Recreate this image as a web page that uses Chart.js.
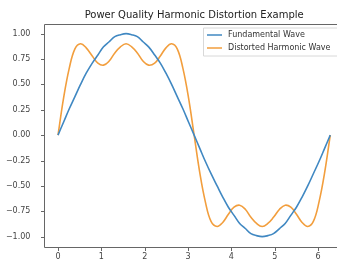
<!DOCTYPE html>
<html>
<head>
<meta charset="utf-8">
<script src="https://cdn.jsdelivr.net/npm/chart.js@4.4.0/dist/chart.umd.min.js"></script>
<style>
  html, body { margin: 0; padding: 0; background: #fff; overflow: hidden; }
  #wrap { width: 337px; height: 260px; overflow: hidden; }
  canvas { display: block; }
</style>
</head>
<body>
<div id="wrap"><canvas id="myChart" width="360" height="260"></canvas></div>
<script>
// valores (x em radianos)
const xValues = [0, 0.13, 0.26, 0.39, 0.52, 0.65, 0.79, 0.92, 1.05, 1.18, 1.31, 1.44, 1.57,
  1.70, 1.83, 1.96, 2.09, 2.23, 2.36, 2.49, 2.62, 2.75, 2.88, 3.01, 3.14,
  3.27, 3.40, 3.53, 3.67, 3.80, 3.93, 4.06, 4.19, 4.32, 4.45, 4.58, 4.71,
  4.84, 4.97, 5.11, 5.24, 5.37, 5.50, 5.63, 5.76, 5.89, 6.02, 6.15, 6.28];

const fundamental = [0, 0.13, 0.26, 0.38, 0.50, 0.61, 0.71, 0.79, 0.87, 0.92, 0.97, 0.99, 1.00,
  0.99, 0.97, 0.92, 0.87, 0.79, 0.71, 0.61, 0.50, 0.38, 0.26, 0.13, 0,
  -0.13, -0.26, -0.38, -0.50, -0.61, -0.71, -0.79, -0.87, -0.92, -0.97, -0.99, -1.00,
  -0.99, -0.97, -0.92, -0.87, -0.79, -0.71, -0.61, -0.50, -0.38, -0.26, -0.13, 0];

const distorted = [0, 0.37, 0.66, 0.85, 0.90, 0.86, 0.78, 0.71, 0.69, 0.73, 0.81, 0.87, 0.90,
  0.87, 0.81, 0.73, 0.69, 0.71, 0.78, 0.86, 0.90, 0.85, 0.66, 0.37, 0,
  -0.37, -0.66, -0.85, -0.90, -0.86, -0.78, -0.71, -0.69, -0.73, -0.81, -0.87, -0.90,
  -0.87, -0.81, -0.73, -0.69, -0.71, -0.78, -0.86, -0.90, -0.85, -0.66, -0.37, 0];

const seriesNames = ['Fundamental Wave', 'Distorted Harmonic Wave'];
const xTicks = [0, 1, 2, 3, 4, 5, 6];
const yTicks = [-1.00, -0.75, -0.50, -0.25, 0.00, 0.25, 0.50, 0.75, 1.00];
const titleText = 'Power Quality Harmonic Distortion Example';

const FONT = '"DejaVu Sans", sans-serif';

function pontos(ys) {
  return xValues.map(function(x, i) { return { x: x, y: ys[i] }; });
}

// moldura (sem o lado direito, que fica fora da imagem), marcas, título e legenda
const mplPlugin = {
  id: 'mpl',
  afterDraw: function(chart) {
    const ctx = chart.ctx;
    const a = chart.chartArea;
    const sx = chart.scales.x, sy = chart.scales.y;
    const l = Math.round(a.left) + 0.5, t = Math.round(a.top) + 0.5, b = Math.round(a.bottom) + 0.5;
    const r = chart.width;
    ctx.save();
    ctx.strokeStyle = '#666';
    ctx.lineWidth = 1;
    ctx.beginPath();
    ctx.moveTo(r, t);
    ctx.lineTo(l, t);
    ctx.lineTo(l, b);
    ctx.lineTo(r, b);
    xTicks.forEach(function(v) {
      const px = Math.round(sx.getPixelForValue(v)) + 0.5;
      ctx.moveTo(px, b);
      ctx.lineTo(px, b + 3.5);
    });
    yTicks.forEach(function(v) {
      const py = Math.round(sy.getPixelForValue(v)) + 0.5;
      ctx.moveTo(l, py);
      ctx.lineTo(l - 3.5, py);
    });
    ctx.stroke();

    ctx.fillStyle = '#444';
    ctx.font = '8px ' + FONT;
    ctx.textAlign = 'center';
    ctx.textBaseline = 'middle';
    xTicks.forEach(function(v) {
      ctx.fillText(String(v), sx.getPixelForValue(v), 256.5);
    });

    ctx.fillStyle = '#222';
    ctx.font = '10px ' + FONT;
    ctx.fillText(titleText, (a.left + a.right) / 2, 15);

    // legenda
    ctx.font = '8px ' + FONT;
    const bx = 203;
    const by = a.top + 4;
    const boxH = 28;
    ctx.fillStyle = 'rgba(255,255,255,0.8)';
    ctx.strokeStyle = '#d8d8d8';
    ctx.beginPath();
    ctx.moveTo(r, by + 0.5);
    ctx.lineTo(bx + 0.5, by + 0.5);
    ctx.lineTo(bx + 0.5, by + boxH + 0.5);
    ctx.lineTo(r, by + boxH + 0.5);
    ctx.fill();
    ctx.stroke();
    ctx.textAlign = 'left';
    chart.data.datasets.forEach(function(ds, i) {
      const yy = by + 7.5 + i * 13;
      ctx.strokeStyle = ds.borderColor;
      ctx.lineWidth = 1.5;
      ctx.beginPath();
      ctx.moveTo(bx + 4, yy);
      ctx.lineTo(bx + 19, yy);
      ctx.stroke();
      ctx.fillStyle = '#333';
      ctx.fillText(ds.label, bx + 25, yy);
    });
    ctx.restore();
  }
};

const ctx = document.getElementById('myChart').getContext('2d');
const myChart = new Chart(ctx, {
  type: 'line',
  data: {
    datasets: [{
      label: seriesNames[0],
      data: pontos(fundamental),
      borderColor: '#4088c2',
      borderWidth: 1.6,
      pointRadius: 0,
      tension: 0.4,
      fill: false
    }, {
      label: seriesNames[1],
      data: pontos(distorted),
      borderColor: '#f29e3d',
      borderWidth: 1.6,
      pointRadius: 0,
      tension: 0.4,
      fill: false
    }]
  },
  options: {
    responsive: false,
    animation: false,
    devicePixelRatio: 1,
    layout: { padding: { left: 0, right: 16, top: 23.5, bottom: 0 } },
    plugins: {
      legend: { display: false },
      title: { display: false },
      tooltip: { enabled: false }
    },
    scales: {
      x: {
        type: 'linear',
        min: -0.314,
        max: 6.597,
        afterBuildTicks: function(scale) {
          scale.ticks = xTicks.map(function(v) { return { value: v }; });
        },
        afterFit: function(scale) { scale.height = 13.2; },
        grid: { display: false },
        border: { display: false },
        ticks: { display: false }
      },
      y: {
        min: -1.1,
        max: 1.1,
        afterBuildTicks: function(scale) {
          scale.ticks = yTicks.map(function(v) { return { value: v }; });
        },
        afterFit: function(scale) { scale.width = 44.4; },
        grid: { display: false },
        border: { display: false },
        ticks: {
          padding: 6,
          color: '#444',
          font: { family: FONT, size: 8 },
          callback: function(v) { return v.toFixed(2).replace('-', '\u2212'); }
        }
      }
    }
  },
  plugins: [mplPlugin]
});
</script>
</body>
</html>
